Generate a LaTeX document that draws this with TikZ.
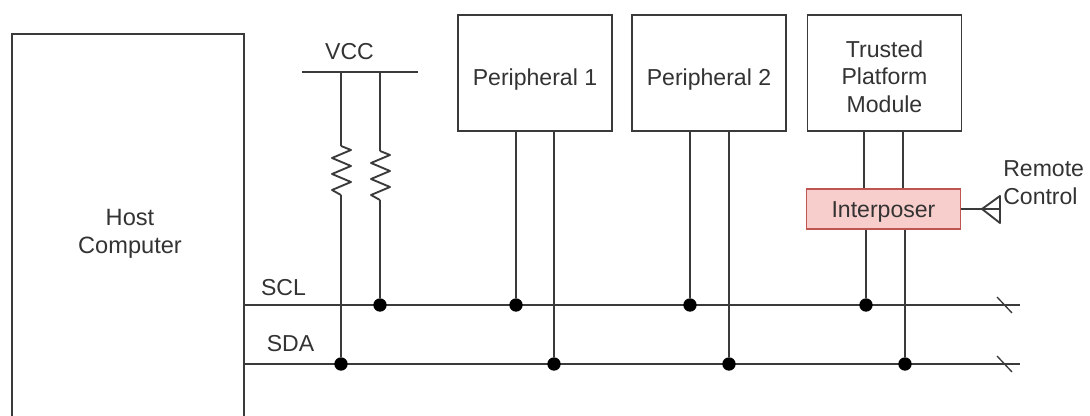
\documentclass[tikz,border=0pt]{standalone}
\usepackage{fontspec}
\setmainfont{Liberation Sans}
\definecolor{ink}{HTML}{3A3A3A}
\definecolor{txt}{HTML}{333333}
\definecolor{redline}{RGB}{190,85,80}
\definecolor{redfill}{RGB}{248,206,204}
\tikzset{
  px/.style={x=0.75pt,y=-0.75pt},
  wire/.style={draw=ink,line width=1.4pt},
  boxn/.style={draw=ink,line width=1.4pt,fill=white,inner sep=0pt,align=center,text=txt,font=\fontsize{17.3}{20.6}\selectfont,minimum height=87pt,minimum width=115.5pt},
  redbox/.style={draw=redline,fill=redfill,line width=1.4pt,inner sep=0pt,text=txt,font=\fontsize{17.3}{20.6}\selectfont,minimum height=30pt,minimum width=115.5pt},
  lbl/.style={inner sep=0pt,text=txt,font=\fontsize{17.3}{20.6}\selectfont,align=left},
  dotn/.style={circle,fill=black,draw=none,minimum size=10pt,inner sep=0pt},
}
\newcommand{\resistor}[1]{\draw[wire,line join=round] (#1) -- ++(10,4) -- ++(-19,8) -- ++(19,8) -- ++(-19,8) -- ++(19,8) -- ++(-19,8) -- ++(9,5);}
\begin{document}
\begin{tikzpicture}[px]
\useasboundingbox (0,0) rectangle (1090,416);
\begin{scope}
\clip (0,0) rectangle (1090,416);
% host box, running off the bottom edge
\coordinate (hostTL) at (12,34);
\coordinate (hostTR) at (244,34);
\draw[wire] (12,425) -- (hostTL) -- (hostTR) -- (244,425);
\end{scope}
\node[lbl,align=center,font=\fontsize{17.7}{20.6}\selectfont] (host) at (130,234) {Host\\Computer};

\node[boxn] (p1) at (535,73) {\raisebox{-5pt}[12.6pt][3.6pt]{Peripheral 1}};
\node[boxn] (p2) at (709,73) {\raisebox{-5pt}[12.6pt][3.6pt]{Peripheral 2}};
\node[boxn] (tpm) at (884.5,73) {\raisebox{-7pt}[30pt][30pt]{\parbox{110pt}{\centering Trusted\\Platform\\Module}}};
\node[redbox] (ip) at (883.5,209) {\raisebox{-2pt}[12.6pt][3.6pt]{Interposer}};

% bus lines
\coordinate (sclL) at (244,305);
\coordinate (sclR) at (1020,305);
\coordinate (sdaL) at (244,364);
\coordinate (sdaR) at (1020,364);
\draw[wire] (sclL) -- (sclR);
\draw[wire] (sdaL) -- (sdaR);
\draw[wire,line width=1pt] (997,297) -- (1012,313);
\draw[wire,line width=1pt] (997,356) -- (1012,372);

% junctions
\node[dotn] (d1) at (380,305) {};
\node[dotn] (d2) at (516,305) {};
\node[dotn] (d3) at (690,305) {};
\node[dotn] (d4) at (866,305) {};
\node[dotn] (e1) at (341,364) {};
\node[dotn] (e2) at (554,364) {};
\node[dotn] (e3) at (729,364) {};
\node[dotn] (e4) at (905,364) {};

% VCC
\coordinate (vccL) at (302,72);
\coordinate (vccR) at (418,72);
\draw[wire] (vccL) -- (vccR);
\node[lbl] (vcc) at (349.5,52) {VCC};
\coordinate (v1) at (341,72);
\coordinate (v2) at (380,72);
\coordinate (r1a) at (341,146);
\coordinate (r1b) at (341,195);
\coordinate (r2a) at (380,151);
\coordinate (r2b) at (380,200);
\draw[wire] (v1) -- (r1a);
\draw[wire] (v2) -- (r2a);
\resistor{r1a}
\resistor{r2a}
\draw[wire] (r1b) -- (e1);
\draw[wire] (r2b) -- (d1);

% peripherals to bus
\draw[wire] (d2 |- p1.south) -- (d2);
\draw[wire] (e2 |- p1.south) -- (e2);
\draw[wire] (d3 |- p2.south) -- (d3);
\draw[wire] (e3 |- p2.south) -- (e3);

% TPM through interposer
\coordinate (t1) at (864,131);
\coordinate (t2) at (903,131);
\draw[wire] (t1) -- (t1 |- ip.north);
\draw[wire] (t2) -- (t2 |- ip.north);
\draw[wire] (d4 |- ip.south) -- (d4);
\draw[wire] (e4 |- ip.south) -- (e4);

% antenna
\coordinate (antApex) at (982,209);
\coordinate (antTop) at (1000,196);
\coordinate (antBot) at (1000,223);
\coordinate (antEnd) at (1000,209);
\draw[wire] (ip.east) -- (antEnd);
\draw[wire,line join=round] (antApex) -- (antTop) -- (antBot) -- cycle;

% labels
\node[lbl] (scl) at (283.5,288) {SCL};
\node[lbl] (sda) at (290.5,344) {SDA};
\node[lbl,anchor=west] (rem) at (1003,169) {Remote};
\node[lbl,anchor=west] (ctl) at (1003,196) {Control};
\end{tikzpicture}
\end{document}
